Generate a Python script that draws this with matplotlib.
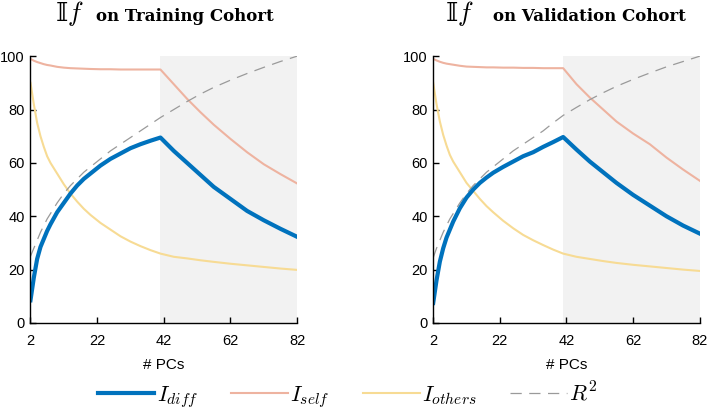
import matplotlib
matplotlib.use("Agg")
import matplotlib.pyplot as plt

plt.rcParams['font.family'] = ['Liberation Sans', 'DejaVu Sans']
plt.rcParams['mathtext.fontset'] = 'cm'

pcs = [2, 3, 4, 5, 6, 7, 8, 10, 12, 14, 16, 18, 20, 23, 26, 29, 32, 35, 38, 41,
       45, 49, 53, 57, 62, 67, 72, 77, 82]

# training cohort
train_diff = [8.5, 17, 24, 28.5, 31.5, 34.5, 37, 41.5, 45, 48.5, 51.5, 54, 56, 59, 61.5,
              63.5, 65.5, 67, 68.3, 69.5, 64.5, 60, 55.5, 51, 46.5, 42, 38.5, 35.3, 32.3]
train_self = [99, 98.3, 97.8, 97.4, 97, 96.7, 96.5, 96, 95.7, 95.5, 95.4, 95.3, 95.2, 95.1, 95.1,
              95, 95, 95, 95, 95, 89.5, 84, 79, 74.3, 69, 64, 59.5, 55.8, 52.3]
train_others = [90, 82, 75, 70, 66, 62.5, 60, 56, 52, 48.5, 45.5, 42.8, 40.5, 37.5, 35,
                32.5, 30.5, 28.8, 27.3, 26, 24.8, 24.2, 23.5, 22.9, 22.2, 21.6, 21, 20.4, 19.9]
train_r2 = [25, 28, 31, 34, 36.5, 39, 41, 45, 48.5, 51.5, 54, 56.5, 58.5, 61.5, 64.5,
            67, 69.5, 72, 74.5, 77, 80, 83, 85.8, 88.3, 91, 93.5, 95.8, 98, 100]

# validation cohort
val_diff = [7.5, 16, 23, 28, 32, 35, 38, 43, 47, 50, 52.5, 54.5, 56.3, 58.5, 60.5,
            62.5, 64, 66, 67.8, 69.7, 65, 60.5, 56.5, 52.5, 48, 44, 40, 36.5, 33.5]
val_self = [99, 98.4, 97.9, 97.5, 97.2, 97, 96.8, 96.4, 96.1, 96, 95.9, 95.8, 95.8, 95.7, 95.7,
            95.6, 95.6, 95.5, 95.5, 95.5, 89.5, 84.5, 80, 75.5, 71, 67, 62, 57.5, 53.3]
val_others = [90, 82, 75.5, 70.5, 66.5, 63, 60.5, 56.5, 52.5, 49.5, 46.5, 43.8, 41.5, 38.3, 35.5,
              33, 31, 29.2, 27.5, 26, 24.8, 24, 23.2, 22.5, 21.8, 21.2, 20.6, 20, 19.5]
val_r2 = [24.5, 28, 31, 34, 36.5, 39, 41, 45, 48.5, 51.5, 54, 56.5, 58.5, 61.5, 64.5,
          67, 69.5, 72, 75, 77.8, 80.8, 83.7, 86.3, 88.7, 91.3, 93.7, 96, 98, 100]

cohorts = ['Training', 'Validation']
series = [(train_diff, train_self, train_others, train_r2),
          (val_diff, val_self, val_others, val_r2)]

c_diff = '#0072BD'
c_self = '#EEB3A0'
c_others = '#F7DB94'
c_r2 = '#9A9A9A'

fig = plt.figure(figsize=(7.09, 4.13), dpi=100)
lefts = [0.043, 0.611]
# title anchors (figure fraction): end of the math part, start of the text part
title_x = [(84 / 709, 96 / 709), (474 / 709, 493 / 709)]

for left, name, (d, s, o, r), (mx, tx) in zip(lefts, cohorts, series, title_x):
    ax = fig.add_axes([left, 0.218, 0.376, 0.646])
    ax.axvspan(41, 82, color='#F2F2F2', lw=0, zorder=0)
    ax.plot(pcs, s, color=c_self, lw=1.5, label=r'$I_{self}$')
    ax.plot(pcs, o, color=c_others, lw=1.5, label=r'$I_{others}$')
    ax.plot(pcs, r, color=c_r2, lw=0.9, ls=(0, (9, 6)), label=r'$R^2$')
    ax.plot(pcs, d, color=c_diff, lw=3, label=r'$I_{diff}$')
    ax.set_xlim(2, 82)
    ax.set_ylim(0, 100)
    ax.set_xticks([2, 22, 42, 62, 82])
    ax.set_yticks([0, 20, 40, 60, 80, 100])
    ax.tick_params(direction='in', labelsize=10.5, length=4, width=1)
    ax.tick_params(axis='x', pad=8)
    ax.tick_params(axis='y', pad=4)
    for sp in ['top', 'right']:
        ax.spines[sp].set_visible(False)
    for sp in ['left', 'bottom']:
        ax.spines[sp].set_linewidth(1)
    ax.set_xlabel('# PCs', fontsize=11, labelpad=7)
    fig.text(mx, 1 - 21 / 413, '\U0001D540$f$', fontsize=19,
             family=['DejaVu Serif', 'DejaVu Sans'], ha='right', va='baseline')
    fig.text(tx, 1 - 21 / 413, 'on ' + name + ' Cohort', fontsize=12,
             fontweight='bold', family='DejaVu Serif', ha='left', va='baseline')

handles, labels = ax.get_legend_handles_labels()
order = [3, 0, 1, 2]
fig.legend([handles[i] for i in order], [labels[i] for i in order],
           loc='center', bbox_to_anchor=(0.49, 1 - 396 / 413), ncol=4, frameon=False,
           fontsize=16, handlelength=2.55, handletextpad=0.1, columnspacing=1.5)

plt.savefig('out.png', dpi=100)
